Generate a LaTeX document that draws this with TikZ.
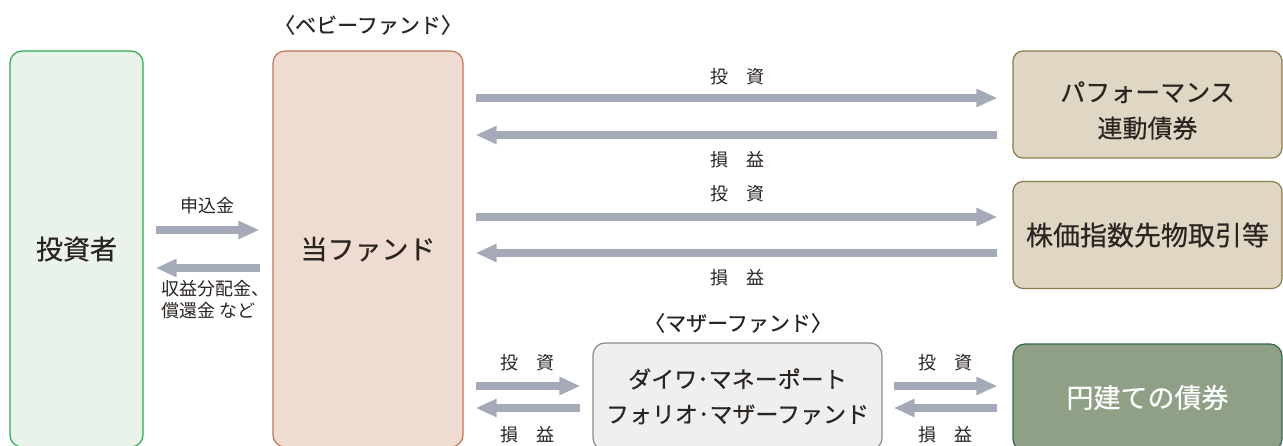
\documentclass[tikz,border=0pt]{standalone}
\usepackage{fontspec}
\setmainfont{Noto Sans CJK JP}
\newfontfamily\jpmed{Noto Sans CJK JP}[FakeBold=0.4]
\usetikzlibrary{positioning,arrows.meta}

\definecolor{txtgray}{HTML}{2B2522}
\definecolor{arrowgray}{HTML}{A4AAB8}
\definecolor{invgreen}{HTML}{2DAA4E}
\definecolor{invfill}{HTML}{E9F3E9}
\definecolor{fundred}{HTML}{C8705A}
\definecolor{fundfill}{HTML}{EDDCCF}
\definecolor{perfbrown}{HTML}{8C7B4A}
\definecolor{perffill}{HTML}{DFD7C3}
\definecolor{mothergray}{HTML}{8A8A8A}
\definecolor{motherfill}{HTML}{EFEFEF}
\definecolor{yengreen}{HTML}{2E6B4B}
\definecolor{yenfill}{HTML}{8FA087}

\newcommand{\bigfont}{\jpmed\fontsize{27}{32}\selectfont}

\tikzset{
  box/.style={draw, rounded corners=12pt, line width=1.2pt, inner sep=0pt,
    align=center, text=txtgray},
  flow/.style={draw=arrowgray, line width=8pt,
    -{Triangle[length=21pt,width=17pt]}},
  lbl/.style={inner sep=0pt, text=txtgray, font=\fontsize{18}{22}\selectfont},
  headlbl/.style={inner sep=0pt, text=txtgray, font=\jpmed\fontsize{21}{24}\selectfont},
}

\begin{document}
\begin{tikzpicture}[x=1pt,y=-1pt]
\useasboundingbox (0,0) rectangle (1283,446);
\clip (0,0) rectangle (1283,446);

% --- Investor and baby fund ---
\node[box, draw=invgreen, fill=invfill, minimum width=133pt, minimum height=396pt,
  font=\bigfont] (inv) at (76.5,249) {投資者};
\node[box, draw=fundred, fill=fundfill, minimum width=190pt, minimum height=396pt,
  font=\bigfont] (fund) at (368,249) {当ファンド};
\node[headlbl] (babyLbl) at (368,25) {〈ベビーファンド〉};

% --- Investment targets ---
\node[box, draw=perfbrown, fill=perffill, rounded corners=10pt, minimum width=269pt,
  minimum height=107pt] (perf) at (1147.5,104.5) {};
\node[inner sep=0pt, align=center, text=txtgray, font=\jpmed\fontsize{25}{36}\selectfont]
  (perfTxt) at ([yshift=-6pt]perf.center) {パフォーマンス\\連動債券};
\node[box, draw=perfbrown, fill=perffill, rounded corners=10pt, minimum width=269pt,
  minimum height=107pt, font=\bigfont] (fut) at (1147.5,235) {株価指数先物取引等};

% --- Mother fund and yen bonds ---
\node[box, draw=mothergray, fill=motherfill, minimum width=289pt, minimum height=107pt,
  font=\jpmed\fontsize{23}{35}\selectfont] (mother) at (737.5,396.5)
  {ダイワ･マネーポート\\フォリオ･マザーファンド};
\node[headlbl] (motherLbl) at (738,323) {〈マザーファンド〉};
\node[box, draw=yengreen, fill=yenfill, text=white, minimum width=269pt,
  minimum height=107pt, font=\bigfont] (yen) at (1147.5,397.5) {円建ての債券};

% --- Investor <-> fund ---
\draw[flow, shorten <=12pt, shorten >=13pt] (inv.east |- 0,230) -- (fund.west |- 0,230);
\draw[flow, shorten <=12pt, shorten >=12pt] (fund.west |- 0,268) -- (inv.east |- 0,268);
\node[lbl] (subLbl) at (207,206) {申込金};
\node[lbl, anchor=west, align=left] (payLbl) at (161,300) {収益分配金、\\償還金 など};

% --- Fund <-> derivatives ---
\foreach \y/\tgt in {98/perf, 217/fut}
  \draw[flow, shorten <=12pt, shorten >=15pt] (fund.east |- 0,\y) -- (\tgt.west |- 0,\y);
\foreach \y/\tgt in {135/perf, 253/fut}
  \draw[flow, shorten <=15pt, shorten >=12pt] (\tgt.west |- 0,\y) -- (fund.east |- 0,\y);
\node[lbl] (invA) at (737,77) {投　資};
\node[lbl] (retA) at (737,160) {損　益};
\node[lbl] (invB) at (737,194) {投　資};
\node[lbl] (retB) at (737,278) {損　益};

% --- Fund <-> mother fund <-> yen bonds ---
\draw[flow, shorten <=12pt, shorten >=12pt] (fund.east |- 0,386) -- (mother.west |- 0,386);
\draw[flow, shorten <=12pt, shorten >=12pt] (mother.west |- 0,408) -- (fund.east |- 0,408);
\draw[flow, shorten <=11pt, shorten >=15pt] (mother.east |- 0,386) -- (yen.west |- 0,386);
\draw[flow, shorten <=15pt, shorten >=11pt] (yen.west |- 0,408) -- (mother.east |- 0,408);
\node[lbl] (invC) at (527,363) {投　資};
\node[lbl] (retC) at (527,435) {損　益};
\node[lbl] (invD) at (945,363) {投　資};
\node[lbl] (retD) at (945,435) {損　益};

\end{tikzpicture}
\end{document}
